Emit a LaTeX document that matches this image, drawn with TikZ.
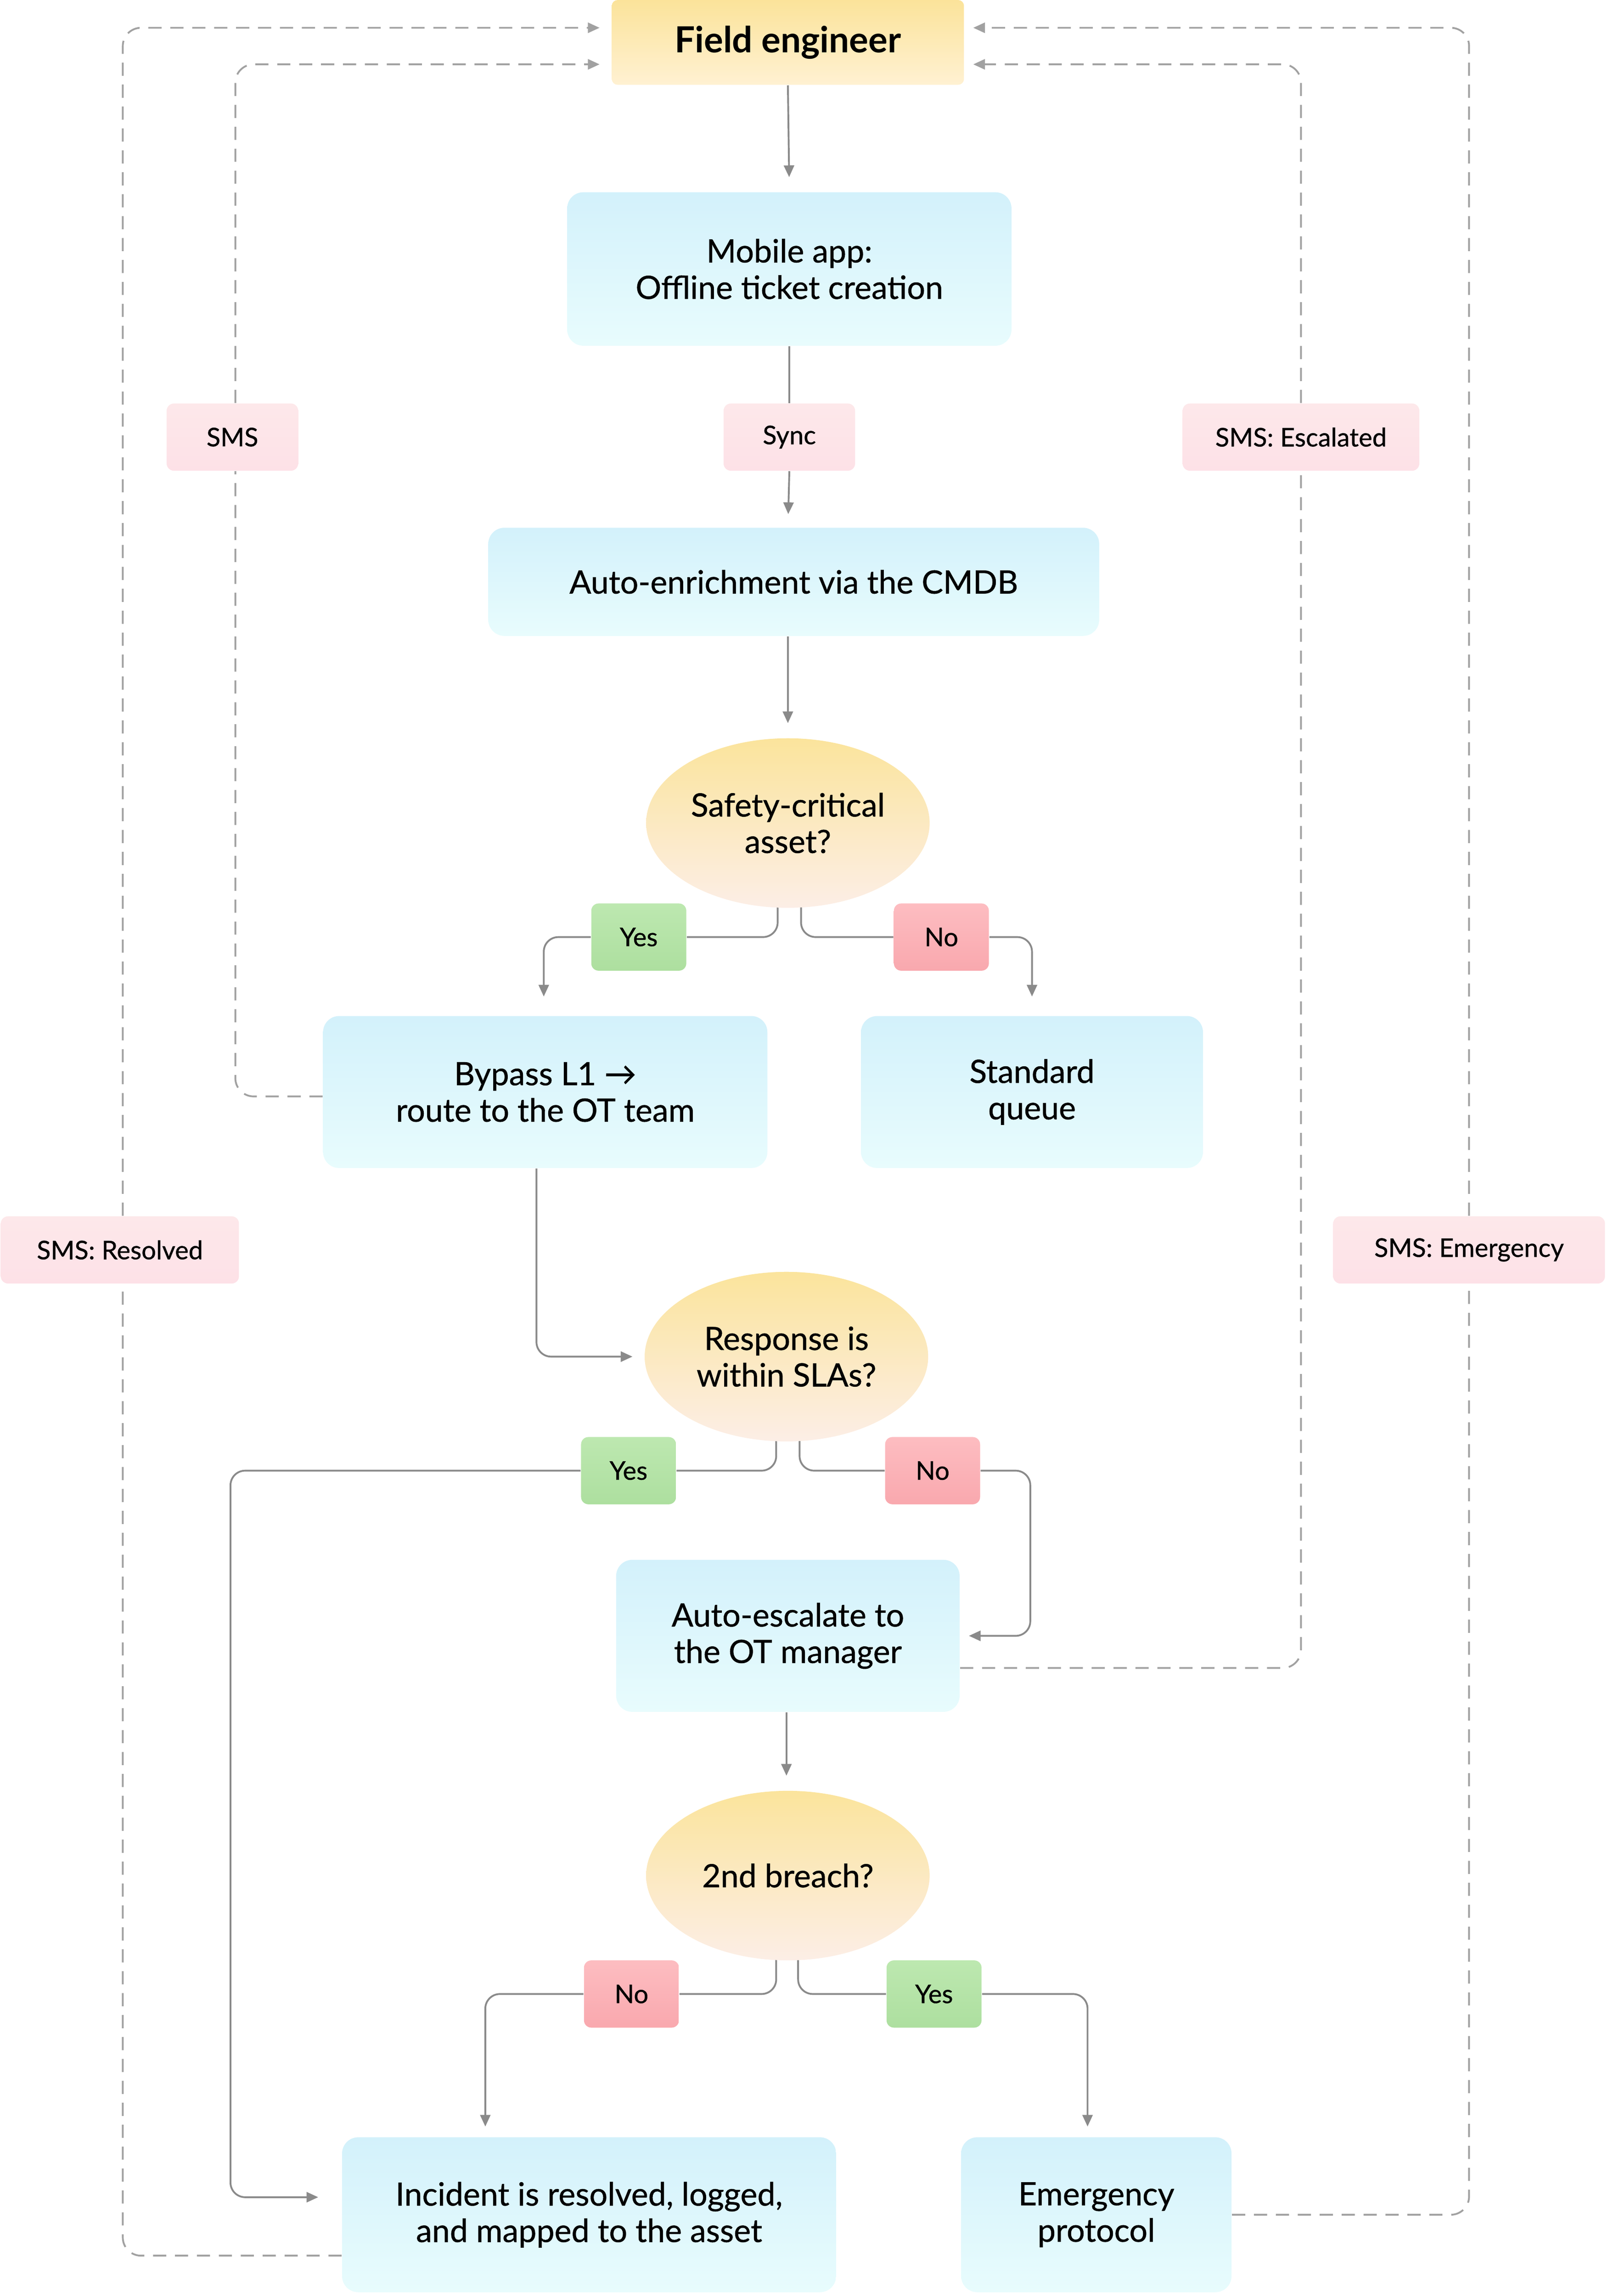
\documentclass[tikz,border=0pt]{standalone}
\usepackage{fontspec}
\setmainfont{Lato}[UprightFeatures={FakeBold=0.7}]
\usetikzlibrary{shapes.geometric,arrows.meta,calc}
\pgfdeclarelayer{bg}\pgfsetlayers{bg,main}
\definecolor{lnc}{HTML}{8A8A8A}
\definecolor{yt}{HTML}{FBE39A}
\definecolor{yb}{HTML}{FFF1D2}
\definecolor{et}{HTML}{FBE49C}
\definecolor{eb}{HTML}{FCEEE6}
\definecolor{bt}{HTML}{D3F1FB}
\definecolor{bb}{HTML}{E8FCFD}
\definecolor{pt}{HTML}{FDE8EA}
\definecolor{pb}{HTML}{FDE1E7}
\definecolor{gt}{HTML}{BDE8B0}
\definecolor{gb}{HTML}{ADDF9F}
\definecolor{rt}{HTML}{FDBDC1}
\definecolor{rb}{HTML}{F9A8AE}
\begin{document}
\begin{tikzpicture}[x=0.02cm,y=-0.02cm,
 box/.style={rounded corners=0.22cm,align=center,font=\fontsize{12.5}{14.2}\selectfont,inner sep=0pt},
 blue/.style={box,top color=bt,bottom color=bb},
 dec/.style={ellipse,top color=et,bottom color=eb,minimum width=3.88cm,minimum height=2.32cm,align=center,font=\fontsize{12.5}{14.2}\selectfont,inner sep=0pt},
 lab/.style={rounded corners=0.1cm,minimum height=0.92cm,font=\fontsize{10}{11}\selectfont,inner sep=0pt},
 pink/.style={lab,top color=pt,bottom color=pb},
 yes/.style={lab,minimum width=1.3cm,top color=gt,bottom color=gb},
 no/.style={lab,minimum width=1.3cm,top color=rt,bottom color=rb},
 arr/.style={draw=lnc,line width=0.7pt,rounded corners=0.2cm,-{Triangle[length=0.16cm,width=0.14cm]}},
 ln/.style={draw=lnc,line width=0.7pt,rounded corners=0.2cm},
 dsh/.style={draw=lnc!80,line width=0.7pt,rounded corners=0.25cm,dash pattern=on 0.18cm off 0.12cm},
 darr/.style={dsh,-{Triangle[length=0.16cm,width=0.14cm]}}]
\useasboundingbox (0,0) rectangle (1100,1570.6);
\node[box,top color=yt,bottom color=yb,minimum width=4.82cm,minimum height=1.16cm,rounded corners=0.08cm,font=\fontsize{14}{16}\selectfont\bfseries] (fe) at (539,29) {Field engineer};
\node[blue,minimum width=6.08cm,minimum height=2.1cm] (mob) at (540,184) {Mobile app:\\Offline ticket creation};
\node[pink,minimum width=1.8cm] (sync) at (540,299) {Sync};
\node[blue,minimum width=8.36cm,minimum height=1.48cm] (cmdb) at (543,398) {Auto-enrichment via the CMDB};
\node[dec] (saf) at (539,563) {Safety-critical\\asset?};
\node[yes] (y1) at (437,641) {Yes};
\node[no] (n1) at (644,641) {No};
\node[blue,minimum width=6.08cm,minimum height=2.08cm] (byp) at (373,747) {Bypass L1 →\\route to the OT team};
\node[blue,minimum width=4.68cm,minimum height=2.08cm] (std) at (706,747) {Standard\\queue};
\node[dec] (resp) at (538,928) {Response is\\within SLAs?};
\node[yes] (y2) at (430,1006) {Yes};
\node[no] (n2) at (638,1006) {No};
\node[blue,minimum width=4.7cm,minimum height=2.08cm] (esc) at (539,1119) {Auto-escalate to\\the OT manager};
\node[dec] (br) at (539,1283) {2nd breach?};
\node[no] (n3) at (432,1364) {No};
\node[yes] (y3) at (639,1364) {Yes};
\node[blue,minimum width=6.76cm,minimum height=2.12cm] (inc) at (403,1515) {Incident is resolved, logged,\\and mapped to the asset};
\node[blue,minimum width=3.7cm,minimum height=2.12cm] (emg) at (750,1515) {Emergency\\protocol};
\node[pink,minimum width=1.8cm] (sms) at (159,299) {SMS};
\node[pink,minimum width=3.24cm] (smse) at (890,299) {SMS: Escalated};
\node[pink,minimum width=3.26cm] (smsr) at (82,855) {SMS: Resolved};
\node[pink,minimum width=3.72cm] (smsm) at (1005,855) {SMS: Emergency};
\begin{pgfonlayer}{bg}
\draw[arr,shorten >=0.2cm] (fe.south) -- (mob.north);
\draw[ln] (mob.south) -- (sync.north);
\draw[arr,shorten >=0.18cm] (sync.south) -- ($(cmdb.north)+(-4,0)$);
\draw[arr,shorten >=0.2cm] ($(cmdb.south)+(-4,0)$) -- (saf.north);
\draw[ln] ($(saf.south)+(-7,-4)$) |- (y1.east);
\draw[arr,shorten >=0.26cm] (y1.west) -| ($(byp.north)+(-1,0)$);
\draw[ln] ($(saf.south)+(9,-4)$) |- (n1.west);
\draw[arr,shorten >=0.26cm] (n1.east) -| (std.north);
\draw[arr,shorten >=0.16cm] ($(byp.south)+(-6,0)$) |- (resp.west);
\draw[ln] ($(resp.south)+(-7,-4)$) |- (y2.east);
\draw[arr] (y2.west) -| ($(inc.west)+(-76,-12)$) -- ($(inc.west)+(-16,-12)$);
\draw[ln] ($(resp.south)+(9,-4)$) |- (n2.west);
\draw[arr] (n2.east) -| ($(esc.east)+(48,0)$) -- ($(esc.east)+(6,0)$);
\draw[arr,shorten >=0.2cm] ($(esc.south)+(-1,0)$) -- ($(br.north)+(-1,0)$);
\draw[ln] ($(br.south)+(-8,-4)$) |- (n3.east);
\draw[arr,shorten >=0.14cm] (n3.west) -| ($(inc.north)+(-71,0)$);
\draw[ln] ($(br.south)+(7,-4)$) |- (y3.west);
\draw[arr,shorten >=0.14cm] (y3.east) -| ($(emg.north)+(-6,0)$);
\draw[dsh] ($(byp.west)+(0,3)$) -| ($(sms.south)+(2,0)$);
\draw[darr] ($(sms.north)+(2,0)$) |- ($(fe.west)+(-8,15)$);
\draw[dsh] ($(inc.west)+(0,28)$) -| ($(smsr.south)+(2,0)$);
\draw[darr] ($(smsr.north)+(2,0)$) |- ($(fe.west)+(-8,-10)$);
\draw[dsh] ($(esc.east)+(0,22)$) -| (smse.south);
\draw[darr] (smse.north) |- ($(fe.east)+(6,15)$);
\draw[dsh] (emg.east) -| (smsm.south);
\draw[darr] (smsm.north) |- ($(fe.east)+(6,-10)$);
\end{pgfonlayer}
\end{tikzpicture}
\end{document}
